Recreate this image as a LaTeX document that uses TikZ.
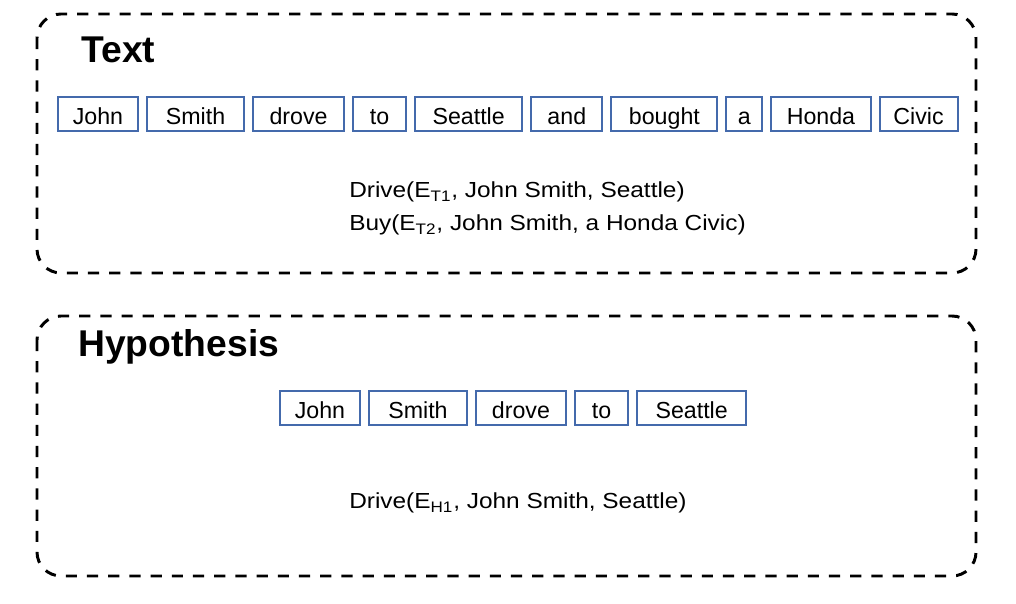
\documentclass[tikz,border=0pt]{standalone}
\usepackage{fontspec}
\setmainfont{Liberation Sans}
\usetikzlibrary{
	positioning,
}
\definecolor{boxblue}{RGB}{68,106,172}
\tikzset{dashframe/.style={
	draw=black,
	line width=2.1pt,
	dash pattern=on 0.28cm off 0.25cm,
	rounded corners=0.6cm,
}}
\tikzset{wordbox/.style={
	draw=boxblue,
	line width=1.4pt,
	rectangle,
	inner sep=0mm,
	minimum height=0.85cm,
	text height=15.6pt,
	text depth=0pt,
	font=\fontsize{16.5}{20}\selectfont,
}}
\tikzset{title/.style={
	anchor=base west,
	inner sep=0mm,
	font=\fontsize{26.5}{30}\selectfont\bfseries,
}}
\tikzset{fact/.style={
	anchor=base west,
	inner sep=0mm,
	font=\fontsize{15.5}{18}\selectfont,
}}
\newcommand{\stretched}[1]{\scalebox{1.12}[1]{#1}}

\begin{document}
\begin{tikzpicture}[node distance=0.175cm]
\useasboundingbox (0,0) rectangle (25.4,15.1);

% frames
\coordinate (tnw) at (0.925,14.75);
\coordinate (tse) at (24.4,8.275);
\coordinate (hnw) at (0.925,7.2);
\coordinate (hse) at (24.4,0.7);
\draw[dashframe] (tnw) rectangle (tse);
\draw[dashframe] (hnw) rectangle (hse);

\node[title](ttitle) at (2.025,13.525) {Text};
\node[title](htitle) at (1.95,6.175) {Hypothesis};

% text tokens
\node[wordbox, minimum width=2.0cm](tjohn) 		at (2.45,12.25) {John};
\node[wordbox, minimum width=2.43cm, right=of tjohn](tsmith) 	{Smith};
\node[wordbox, minimum width=2.27cm, right=of tsmith](tdrove) 	{drove};
\node[wordbox, minimum width=1.33cm, right=of tdrove](tto) 		{to};
\node[wordbox, minimum width=2.68cm, right=of tto](tseattle) 	{Seattle};
\node[wordbox, minimum width=1.78cm, right=of tseattle](tand) 	{and};
\node[wordbox, minimum width=2.65cm, right=of tand](tbought) 	{bought};
\node[wordbox, minimum width=0.9cm, right=of tbought](ta) 		{a};
\node[wordbox, minimum width=2.48cm, right=of ta](thonda) 		{Honda};
\node[wordbox, minimum width=1.95cm, right=of thonda](tcivic) 	{Civic};

% hypothesis tokens
\node[wordbox, minimum width=2.0cm](hjohn) 		at (8.0,4.9) {John};
\node[wordbox, minimum width=2.45cm, right=of hjohn](hsmith) 	{Smith};
\node[wordbox, minimum width=2.25cm, right=of hsmith](hdrove) 	{drove};
\node[wordbox, minimum width=1.33cm, right=of hdrove](hto) 		{to};
\node[wordbox, minimum width=2.73cm, right=of hto](hseattle) 	{Seattle};

% events
\node[fact](tdrive) at (8.725,10.15) {\stretched{Drive(E\textsubscript{T1}, John Smith, Seattle)}};
\node[fact](tbuy) 	at (8.725,9.325) {\stretched{Buy(E\textsubscript{T2}, John Smith, a Honda Civic)}};
\node[fact](hdrive) at (8.725,2.375) {\stretched{Drive(E\textsubscript{H1}, John Smith, Seattle)}};

\end{tikzpicture}
\end{document}
